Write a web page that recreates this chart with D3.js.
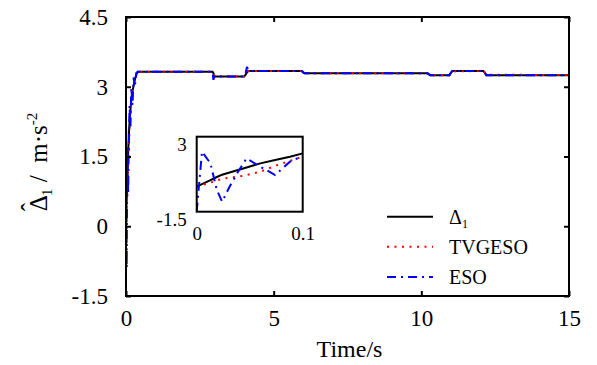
<!DOCTYPE html>
<html><head><meta charset="utf-8">
<script src="https://cdn.jsdelivr.net/npm/d3@7"></script>
<style>
body{margin:0;background:#fff;}
svg{display:block;}
</style></head>
<body>
<svg id="c" width="597" height="365" font-family="Liberation Serif"></svg>
<script>
// ---- data ----
const timeS = [0, 0.005, 0.013, 0.019, 0.024, 0.031, 0.039, 0.047, 0.06, 0.074, 0.088, 0.1, 0.12, 0.15, 0.18, 0.22, 0.26, 0.3, 0.35, 0.4, 0.5, 2.93, 2.96, 2.98, 3.0, 3.05, 4.0, 4.05, 4.1, 4.13, 4.2, 5.95, 6.0, 6.05, 10.2, 10.25, 10.3, 10.95, 11.0, 11.05, 12.1, 12.15, 12.2, 15];
const delta1 = [0, 0.15, 0.4, 0.58, 0.72, 0.85, 1.0, 1.15, 1.4, 1.6, 1.8, 2.0, 2.25, 2.5, 2.72, 2.9, 3.03, 3.15, 3.27, 3.32, 3.32, 3.32, 3.29, 3.25, 3.22, 3.22, 3.22, 3.26, 3.31, 3.34, 3.34, 3.34, 3.31, 3.29, 3.29, 3.27, 3.25, 3.25, 3.3, 3.34, 3.34, 3.3, 3.25, 3.25];
const tvgeso = [0, 0.1, 0.25, 0.38, 0.47, 0.55, 0.6, 0.7, 0.9, 1.25, 1.55, 1.8, 2.1, 2.4, 2.65, 2.85, 3.0, 3.12, 3.25, 3.31, 3.32, 3.32, 3.3, 3.26, 3.23, 3.22, 3.22, 3.25, 3.3, 3.33, 3.34, 3.34, 3.32, 3.29, 3.29, 3.28, 3.25, 3.25, 3.29, 3.33, 3.34, 3.31, 3.26, 3.25];
const eso = [-1.5, 2.1, 1.4, -0.2, -0.9, 0.0, 0.9, 1.7, 1.2, 0.7, 1.5, 1.85, 2.6, 2.1, 3.0, 2.6, 3.2, 3.0, 3.3, 3.32, 3.32, 3.32, 3.15, 3.2, 3.22, 3.22, 3.22, 3.3, 3.43, 3.35, 3.34, 3.34, 3.31, 3.29, 3.29, 3.27, 3.25, 3.25, 3.3, 3.34, 3.34, 3.3, 3.25, 3.25];
const xTicks = [0, 5, 10, 15];
const yTicks = [-1.5, 0, 1.5, 3, 4.5];
const insetXTicks = [0, 0.1];
const insetYTicks = [-1.5, 3];
const seriesNames = ["Δ1", "TVGESO", "ESO"];

const FONT = "Liberation Serif";
const series = [
  {name: seriesNames[0], vals: delta1, color: "#000", dash: null},
  {name: seriesNames[1], vals: tvgeso, color: "#ff0000", dash: "2,5.5"},
  {name: seriesNames[2], vals: eso, color: "#0000ff", dash: "9,5,2,5"}
];
const fmt = d => String(d);

const svg = d3.select("#c");
const M = {l: 126, r: 569, t: 17, b: 296};
const x = d3.scaleLinear().domain([0, 15]).range([M.l, M.r]);
const y = d3.scaleLinear().domain([-1.5, 4.5]).range([M.b, M.t]);

const defs = svg.append("defs");
defs.append("clipPath").attr("id", "mainclip").append("rect")
  .attr("x", M.l).attr("y", M.t).attr("width", M.r - M.l).attr("height", M.b - M.t);

function drawLines(g, xs, ys) {
  const line = d3.line().x((d, i) => xs(timeS[i])).y(d => ys(d));
  series.forEach(s => {
    g.append("path").attr("d", line(s.vals))
      .attr("fill", "none").attr("stroke", s.color).attr("stroke-width", 2)
      .attr("stroke-dasharray", s.dash);
  });
}

const gl = svg.append("g").attr("clip-path", "url(#mainclip)");
drawLines(gl, x, y);

// axes
const ax = svg.append("g").attr("transform", `translate(0,${M.b})`)
  .call(d3.axisBottom(x).tickValues(xTicks).tickSize(-5).tickPadding(14).tickFormat(fmt));
const axT = svg.append("g").attr("transform", `translate(0,${M.t})`)
  .call(d3.axisTop(x).tickValues(xTicks).tickSize(-5).tickFormat(""));
const ay = svg.append("g").attr("transform", `translate(${M.l},0)`)
  .call(d3.axisLeft(y).tickValues(yTicks).tickSize(-5).tickPadding(18).tickFormat(fmt));
const ayR = svg.append("g").attr("transform", `translate(${M.r},0)`)
  .call(d3.axisRight(y).tickValues(yTicks).tickSize(-5).tickFormat(""));
[ax, axT, ay, ayR].forEach(a => {
  a.attr("font-family", FONT).attr("font-size", 23);
  a.select(".domain").remove();
  a.selectAll("line").attr("stroke", "#000").attr("stroke-width", 2);
  a.selectAll("text").attr("fill", "#000");
});
svg.append("rect").attr("x", M.l).attr("y", M.t).attr("width", M.r - M.l).attr("height", M.b - M.t)
  .attr("fill", "none").attr("stroke", "#000").attr("stroke-width", 2);

// axis titles
svg.append("text").attr("x", (M.l + M.r) / 2 + 2).attr("y", 357).attr("text-anchor", "middle")
  .attr("font-family", FONT).attr("font-size", 24).text("Time/s");
const yl = svg.append("text").attr("transform", "translate(47,162) rotate(-90)")
  .attr("text-anchor", "middle").attr("font-family", FONT).attr("font-size", 25);
yl.append("tspan").text("\u0394");
yl.append("tspan").attr("dx", -16).attr("dy", -8).text("\u02C6");
yl.append("tspan").attr("font-size", 15).attr("dx", 7).attr("dy", 13).text("1");
yl.append("tspan").attr("dy", -5).text("\u00a0/\u00a0\u00a0m\u00b7s");
yl.append("tspan").attr("font-size", 15).attr("dy", -10).text("-2");

// inset
const I = {l: 196.7, r: 302.7, t: 136.7, b: 211.7};
const xi = d3.scaleLinear().domain([0, 0.1]).range([I.l, I.r]);
const yi = d3.scaleLinear().domain([-1.5, 3]).range([I.b, I.t]);
svg.append("rect").attr("x", I.l).attr("y", I.t).attr("width", I.r - I.l).attr("height", I.b - I.t).attr("fill", "#fff");
defs.append("clipPath").attr("id", "insetclip").append("rect")
  .attr("x", I.l).attr("y", I.t).attr("width", I.r - I.l).attr("height", I.b - I.t);
const gi = svg.append("g").attr("clip-path", "url(#insetclip)");
drawLines(gi, xi, yi);
svg.append("rect").attr("x", I.l).attr("y", I.t).attr("width", I.r - I.l).attr("height", I.b - I.t)
  .attr("fill", "none").attr("stroke", "#000").attr("stroke-width", 2);
const ixa = svg.append("g").attr("transform", `translate(0,${I.b})`)
  .call(d3.axisBottom(xi).tickValues(insetXTicks).tickSize(0).tickPadding(15).tickFormat(fmt));
const iya = svg.append("g").attr("transform", `translate(${I.l},0)`)
  .call(d3.axisLeft(yi).tickValues(insetYTicks).tickSize(0).tickPadding(10).tickFormat(fmt));
[ixa, iya].forEach(a => {
  a.attr("font-family", FONT).attr("font-size", 19);
  a.select(".domain").remove();
  a.selectAll("text").attr("fill", "#000");
});
iya.selectAll("text").attr("dy", "0.71em");

// legend
const legY = [216.7, 246.7, 277];
series.forEach((s, i) => {
  svg.append("line").attr("x1", 387).attr("x2", 433).attr("y1", legY[i]).attr("y2", legY[i])
    .attr("stroke", s.color).attr("stroke-width", 2).attr("stroke-dasharray", s.dash);
  const t = svg.append("text").attr("x", 449).attr("y", legY[i] + 7)
    .attr("font-family", FONT).attr("font-size", 20);
  if (i === 0) {
    t.append("tspan").text(s.name.charAt(0));
    t.append("tspan").attr("font-size", 12).attr("dy", 4).text(s.name.slice(1));
  } else {
    t.text(s.name);
  }
});
</script>
</body></html>
